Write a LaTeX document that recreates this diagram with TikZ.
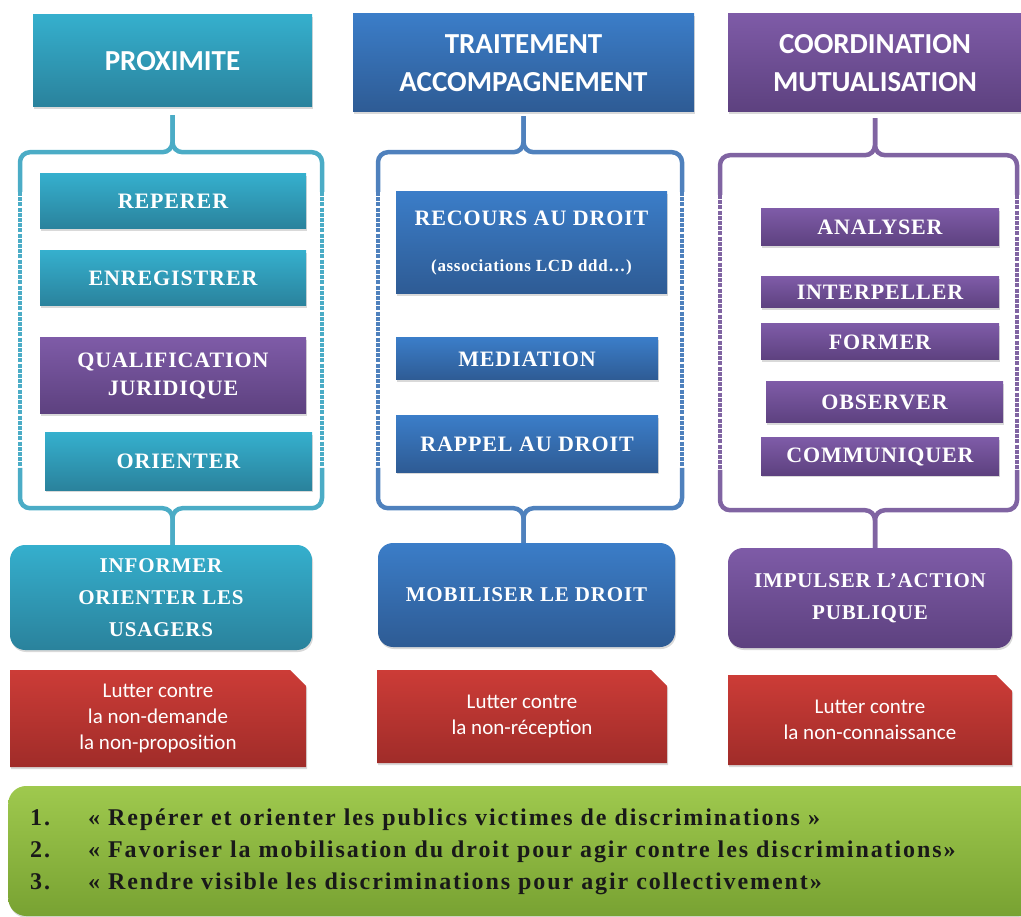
\documentclass[tikz,border=0pt]{standalone}
\usepackage{fontspec}
\setmainfont{Liberation Serif}
\newfontfamily\calibri{Carlito}
\newfontfamily\itemfont[LetterSpace=4]{Liberation Serif}
\newfontfamily\goalfont[LetterSpace=8]{Liberation Serif}
\usepackage{tikz}
\usetikzlibrary{positioning, calc, shapes.misc, shadows}

\definecolor{tealtop}{HTML}{35AFCD}
\definecolor{tealbot}{HTML}{2A829C}
\definecolor{bluetop}{HTML}{3B7DC8}
\definecolor{bluebot}{HTML}{2E5B94}
\definecolor{purpletop}{HTML}{7E5BA7}
\definecolor{purplebot}{HTML}{5D417F}
\definecolor{redtop}{HTML}{CC3C37}
\definecolor{redbot}{HTML}{A02C29}
\definecolor{greentop}{HTML}{9FC94E}
\definecolor{greenbot}{HTML}{78A232}
\definecolor{tealline}{HTML}{4BACC6}
\definecolor{blueline}{HTML}{4F81BD}
\definecolor{purpleline}{HTML}{8064A2}

\tikzset{
  box/.style={draw=none, text=white, align=center, inner sep=2pt,
    drop shadow={opacity=0.3, shadow xshift=1pt, shadow yshift=-2pt}},
  head/.style={box, font=\calibri\bfseries\fontsize{29}{38}\selectfont},
  item/.style={box, font=\itemfont\bfseries\fontsize{22}{28}\selectfont},
  goal/.style={box, rounded corners=15pt, font=\itemfont\bfseries\fontsize{21}{32}\selectfont},
  fight/.style={box, chamfered rectangle, chamfered rectangle corners=north east,
    chamfered rectangle xsep=8pt, chamfered rectangle ysep=8pt,
    font=\calibri\fontsize{21}{26}\selectfont},
  tealfill/.style={top color=tealtop, bottom color=tealbot},
  bluefill/.style={top color=bluetop, bottom color=bluebot},
  purplefill/.style={top color=purpletop, bottom color=purplebot},
  redfill/.style={top color=redtop, bottom color=redbot},
  brace/.style={draw=#1, line width=4.5pt, rounded corners=10pt},
  braceside/.style={draw=#1, line width=4.5pt, dash pattern=on 4pt off 1.2pt}
}

\begin{document}
\begin{tikzpicture}[x=1pt, y=-1pt]
\useasboundingbox (0,0) rectangle (1021,917);

% Column headers
\node[head, tealfill, minimum width=279pt, minimum height=92pt] (prox) at (172.5,61) {PROXIMITE};
\node[head, bluefill, minimum width=341pt, minimum height=98pt] (trait) at (523.5,63) {TRAITEMENT\\ACCOMPAGNEMENT};
\node[head, purplefill, minimum width=294pt, minimum height=98pt] (coord) at (875,63) {COORDINATION\\MUTUALISATION};

% Actions, left column
\node[item, tealfill, minimum width=266pt, minimum height=55pt] (reperer) at (173,201.5) {REPERER};
\node[item, tealfill, minimum width=266pt, minimum height=55pt] (enreg) at (173,278.5) {ENREGISTRER};
\node[item, purplefill, minimum width=266pt, minimum height=76pt] (qualif) at (173,376) {QUALIFICATION\\JURIDIQUE};
\node[item, tealfill, minimum width=267pt, minimum height=57pt] (orienter) at (178.5,461.5) {ORIENTER};

% Actions, middle column
\node[item, bluefill, minimum width=271pt, minimum height=102pt] (recours) at (531.5,243) {RECOURS AU DROIT\\[18pt]{\fontsize{17}{20}\selectfont(associations LCD ddd\dots)}};
\node[item, bluefill, minimum width=262pt, minimum height=42pt] (mediation) at (527,359) {MEDIATION};
\node[item, bluefill, minimum width=262pt, minimum height=56pt] (rappel) at (527,444) {RAPPEL AU DROIT};

% Actions, right column
\node[item, purplefill, minimum width=238pt, minimum height=37pt] (analyser) at (880,227.5) {ANALYSER};
\node[item, purplefill, minimum width=238pt, minimum height=31pt] (interpeller) at (880,292.5) {INTERPELLER};
\node[item, purplefill, minimum width=238pt, minimum height=36pt] (former) at (880,342) {FORMER};
\node[item, purplefill, minimum width=237pt, minimum height=41pt] (observer) at (884.5,402.5) {OBSERVER};
\node[item, purplefill, minimum width=238pt, minimum height=37pt] (communiquer) at (880,456.5) {COMMUNIQUER};

% Aims
\node[goal, tealfill, minimum width=302pt, minimum height=105pt] (informer) at (161,597.5) {INFORMER\\ORIENTER LES\\USAGERS};
\node[goal, bluefill, minimum width=297pt, minimum height=104pt] (mobiliser) at (526.5,595) {MOBILISER LE DROIT};
\node[goal, purplefill, minimum width=284pt, minimum height=100pt] (impulser) at (870,598) {IMPULSER L’ACTION\\PUBLIQUE};

% What each column fights
\node[fight, redfill, minimum width=296pt, minimum height=97pt] (lutte1) at (158,718.5) {Lutter contre\\la non-demande\\la non-proposition};
\node[fight, redfill, minimum width=290pt, minimum height=93pt] (lutte2) at (522,716.5) {Lutter contre\\la non-réception};
\node[fight, redfill, minimum width=284pt, minimum height=90pt] (lutte3) at (870,720) {Lutter contre\\la non-connaissance};

% Objectives
\node[box, top color=greentop, bottom color=greenbot, rounded corners=18pt, anchor=west,
  text=black!90, text width=985pt, minimum height=130pt, inner xsep=22pt, align=left,
  font=\goalfont\bfseries\fontsize{24}{32}\selectfont] (objectifs) at (8,851)
  {\begin{tabular}{@{}l@{\hspace{38pt}}l@{}}
   1. & « Repérer et orienter les publics victimes de discriminations »\\
   2. & « Favoriser la mobilisation du droit pour agir contre les discriminations»\\
   3. & « Rendre visible les discriminations pour agir collectivement»
   \end{tabular}};

% Braces, left column
\draw[brace=tealline] ($(prox.south)+(0,8)$) -- ++(0,37) -| (20,192);
\draw[brace=tealline] ($(prox.south)+(0,8)$) -- ++(0,37) -| (322,192);
\draw[braceside=tealline] (20,192) -- (20,468);
\draw[braceside=tealline] (322,192) -- (322,468);
\draw[brace=tealline] (20,468) |- ($(prox.south)+(0,401)$) -- (informer.north -| prox.south);
\draw[brace=tealline] (322,468) |- ($(prox.south)+(0,401)$) -- (informer.north -| prox.south);

% Braces, middle column
\draw[brace=blueline] ($(trait.south)+(0,4)$) -- ++(0,36) -| (378,192);
\draw[brace=blueline] ($(trait.south)+(0,4)$) -- ++(0,36) -| (682,192);
\draw[braceside=blueline] (378,192) -- (378,468);
\draw[braceside=blueline] (682,192) -- (682,468);
\draw[brace=blueline] (378,468) |- ($(trait.south)+(0,396)$) -- (mobiliser.north -| trait.south);
\draw[brace=blueline] (682,468) |- ($(trait.south)+(0,396)$) -- (mobiliser.north -| trait.south);

% Braces, right column
\draw[brace=purpleline] ($(coord.south)+(0,6)$) -- ++(0,37) -| (720,195);
\draw[brace=purpleline] ($(coord.south)+(0,6)$) -- ++(0,37) -| (1017,195);
\draw[braceside=purpleline] (720,195) -- (720,470);
\draw[braceside=purpleline] (1017,195) -- (1017,470);
\draw[brace=purpleline] (720,470) |- ($(coord.south)+(0,398)$) -- (impulser.north -| coord.south);
\draw[brace=purpleline] (1017,470) |- ($(coord.south)+(0,398)$) -- (impulser.north -| coord.south);
\end{tikzpicture}
\end{document}
